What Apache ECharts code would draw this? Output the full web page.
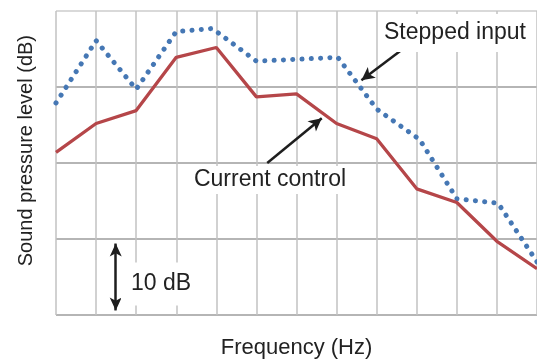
<!DOCTYPE html>
<html><head><meta charset="utf-8">
<script src="https://cdn.jsdelivr.net/npm/echarts@6/dist/echarts.min.js"></script>
<style>html,body{margin:0;padding:0;background:#fff}#c{width:537px;height:364px}</style>
</head><body><div id="c"></div>
<script>
// Frequency position (grid-column index) and sound pressure level (dB)
var currentX = [0, 1, 2, 3, 4, 5, 6, 7, 8, 9, 10, 11, 12];
var currentY = [21.4, 25.2, 26.9, 33.9, 35.2, 28.7, 29.1, 25.2, 23.2, 16.6, 14.8, 9.7, 6.1];
var steppedX = [0, 1, 2, 3, 3.9, 5, 7.03, 8, 9.07, 10, 11.03, 12];
var steppedY = [27.9, 36.1, 29.7, 37.3, 37.7, 33.4, 33.9, 27.1, 23.1, 15.3, 14.7, 7.0];
var seriesNames = ['Current control', 'Stepped input'];
var scaleLabel = '10 dB';

var FONT = '"Liberation Sans", Arial, Helvetica, sans-serif';
function pairs(xs, ys){ return xs.map(function(x,i){ return [x, ys[i]]; }); }

var chart = echarts.init(document.getElementById('c'), null, {renderer:'canvas'});
var arrowStyle = {color:'#1e1e1e', width:2.5, type:'solid'};
chart.setOption({
  animation:false,
  backgroundColor:'#fff',
  grid:{left:56, top:11, width:483, height:308, containLabel:false},
  xAxis:{type:'value', min:0, max:12, interval:1,
    axisLine:{show:false}, axisTick:{show:false}, axisLabel:{show:false},
    splitLine:{show:true, lineStyle:{color:'#c2c2c2', width:1.5}},
    name:'Frequency (Hz)', nameLocation:'middle', nameGap:22,
    nameTextStyle:{fontSize:22, color:'#222', fontFamily:FONT}},
  yAxis:{type:'value', min:0, max:40, interval:10,
    axisLine:{show:false}, axisTick:{show:false}, axisLabel:{show:false},
    splitLine:{show:true, lineStyle:{color:['#9c9c9c','#9c9c9c','#9c9c9c','#9c9c9c','#cccccc'], width:1.5}}},
  graphic:[
    {type:'text', left:16, top:35, rotation:Math.PI/2, z:100,
     style:{text:'Sound pressure level (dB)', fontSize:20, fontFamily:FONT, fill:'#222'}},
    {type:'text', x:455, y:33, z:100,
     style:{text:seriesNames[1], fontSize:23, fontFamily:FONT, fill:'#222', align:'center', verticalAlign:'middle',
            backgroundColor:'#fff', padding:[9,6,6,6]}},
    {type:'text', x:270, y:180, z:100,
     style:{text:seriesNames[0], fontSize:23, fontFamily:FONT, fill:'#222', align:'center', verticalAlign:'middle',
            backgroundColor:'#fff', padding:[0,7,5,7]}},
    {type:'text', x:161, y:284, z:100,
     style:{text:scaleLabel, fontSize:23, fontFamily:FONT, fill:'#222', align:'center', verticalAlign:'middle',
            backgroundColor:'#fff', padding:[10,10,10,10]}}
  ],
  series:[
    {name:seriesNames[1], type:'line', data:pairs(steppedX, steppedY), showSymbol:false, symbol:'none',
     silent:true, z:3,
     lineStyle:{color:'#4577b4', width:5, type:[0.1, 9.2], cap:'round', join:'round'}},
    {name:seriesNames[0], type:'line', data:pairs(currentX, currentY), showSymbol:false, symbol:'none',
     silent:true, z:4,
     lineStyle:{color:'#b54649', width:3.3}},
    {type:'line', data:[], silent:true, z:5,
     markLine:{silent:true, animation:false, symbol:['none','arrow'], symbolSize:[10,13],
       label:{show:false}, lineStyle:arrowStyle, emphasis:{disabled:true},
       data:[
         [{coord:[8.67,35.06]},{coord:[7.62,30.9]}],
         [{coord:[5.27,20.0]},{coord:[6.63,25.9]}]
       ]}},
    {type:'line', data:[], silent:true, z:5,
     markLine:{silent:true, animation:false, symbol:['arrow','arrow'], symbolSize:[9,13],
       label:{show:false}, lineStyle:arrowStyle, emphasis:{disabled:true},
       data:[[{coord:[1.49,0.6]},{coord:[1.49,9.4]}]]}}
  ]
});
</script></body></html>
